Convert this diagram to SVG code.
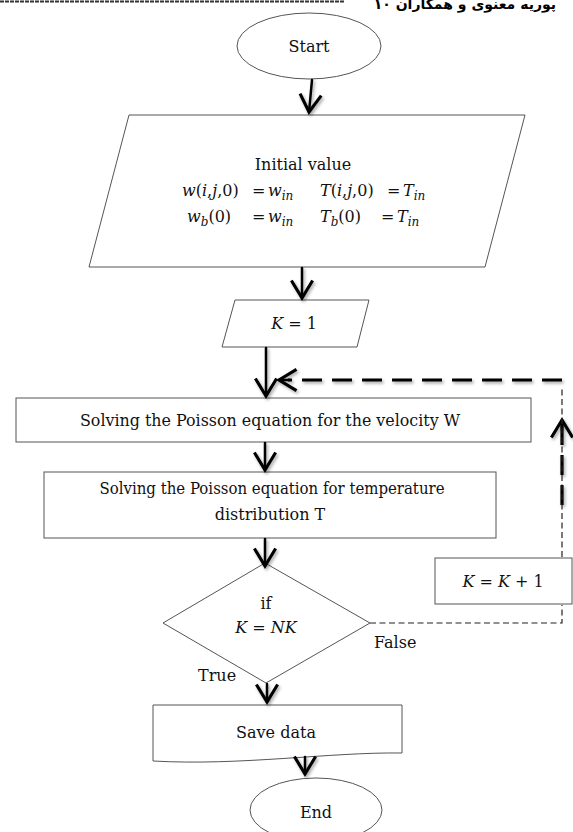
<svg xmlns="http://www.w3.org/2000/svg" width="573" height="832" viewBox="0 0 573 832">
<style>
.t{font-family:"DejaVu Serif","Liberation Serif",serif;font-size:16px;fill:#111}
.i{font-style:italic}
.s{font-size:12px}
.c{text-anchor:middle}
.n{fill:#fff;stroke:#555;stroke-width:1}
.a{fill:none;stroke:#000;stroke-width:2.5;stroke-linecap:round}
.d{fill:none;stroke:#222;stroke-width:1.2;stroke-dasharray:6 3.5}
.D{fill:none;stroke:#000;stroke-width:3.2;stroke-dasharray:20 10}
.h{font-family:"DejaVu Sans","Noto Sans",sans-serif;font-weight:bold;font-size:14px;fill:#000}
</style>
<defs>
<marker id="v" markerUnits="userSpaceOnUse" orient="auto" refX="0" refY="0" markerWidth="30" markerHeight="30" viewBox="-16 -12 20 24" overflow="visible">
<path d="M-14,-8.5 L0,0 L-14,8.5" fill="none" stroke="#000" stroke-width="2.5" stroke-linejoin="miter"/>
</marker>
<filter id="sh" x="-50%" y="-50%" width="200%" height="200%">
<feDropShadow dx="1.5" dy="2" stdDeviation="1.5" flood-color="#000" flood-opacity="0.35"/>
</filter>
</defs>

<g id="header">
<line x1="0" y1="1.5" x2="344" y2="1.5" stroke="#333" stroke-width="2" stroke-dasharray="4 1"/>
<text class="h" x="556" y="9" text-anchor="end">۱۰ پوریه معنوی و همکاران</text>
</g>

<g id="start">
<ellipse class="n" cx="309" cy="46" rx="72" ry="33"/>
<text class="t c" x="309" y="52">Start</text>
</g>

<g id="initial">
<polygon class="n" points="129,115 525,115 485,267 89,267"/>
<text class="t c" x="303" y="170">Initial value</text>
<text class="t" y="196"><tspan x="182" class="i">w</tspan>(<tspan class="i">i</tspan>,<tspan class="i">j</tspan>,0)<tspan x="252">=</tspan><tspan x="268" class="i">w</tspan><tspan class="i s" dy="4">in</tspan></text>
<text class="t" y="196"><tspan x="320" class="i">T</tspan>(<tspan class="i">i</tspan>,<tspan class="i">j</tspan>,0)<tspan x="387">=</tspan><tspan x="403" class="i">T</tspan><tspan class="i s" dy="4">in</tspan></text>
<text class="t" y="222"><tspan x="187" class="i">w</tspan><tspan class="i s" dy="4">b</tspan><tspan dy="-4">(0)</tspan><tspan x="252">=</tspan><tspan x="268" class="i">w</tspan><tspan class="i s" dy="4">in</tspan></text>
<text class="t" y="222"><tspan x="320" class="i">T</tspan><tspan class="i s" dy="4">b</tspan><tspan dy="-4">(0)</tspan><tspan x="381">=</tspan><tspan x="397" class="i">T</tspan><tspan class="i s" dy="4">in</tspan></text>
</g>

<g id="k1">
<polygon class="n" points="235,300 369,300 357,347 222,347"/>
<text class="t c" x="294" y="329"><tspan class="i">K</tspan> = 1</text>
</g>

<g id="velocity">
<rect class="n" x="16" y="398" width="515" height="44"/>
<text class="t c" x="270" y="426" textLength="380" lengthAdjust="spacingAndGlyphs">Solving the Poisson equation for the velocity W</text>
</g>

<g id="temperature">
<rect class="n" x="44" y="472" width="452" height="66"/>
<text class="t c" x="272" y="494" textLength="345" lengthAdjust="spacingAndGlyphs">Solving the Poisson equation for temperature</text>
<text class="t c" x="270" y="520">distribution T</text>
</g>

<g id="decision">
<polygon class="n" points="265,563 370,623 266,683 163,623" stroke="#888"/>
<text class="t c" x="266" y="609">if</text>
<text class="t c" x="266" y="633"><tspan class="i">K</tspan> = <tspan class="i">NK</tspan></text>
<text class="t" x="374" y="648">False</text>
<text class="t" x="198" y="681">True</text>
</g>

<g id="increment">
<rect class="n" x="435" y="558" width="137" height="46"/>
<text class="t c" x="503" y="587"><tspan class="i">K</tspan> = <tspan class="i">K</tspan> + 1</text>
</g>

<g id="save">
<path class="n" d="M153,705 L402,705 L402,753 C330,752 240,766 153,761 Z"/>
<text class="t c" x="276" y="738">Save data</text>
</g>

<g id="end">
<ellipse class="n" cx="316" cy="810" rx="66" ry="32"/>
<text class="t c" x="316" y="818">End</text>
</g>

<g id="connectors">
<g filter="url(#sh)">
<path class="a" d="M312,80 L309,112" marker-end="url(#v)"/>
<path class="a" d="M302,268 L302,298" marker-end="url(#v)"/>
<path class="a" d="M266,348 L266,396" marker-end="url(#v)"/>
<path class="a" d="M265,443 L265,470" marker-end="url(#v)"/>
<path class="a" d="M265,539 L265,566" marker-end="url(#v)"/>
<path class="a" d="M267,684 L267,702" marker-end="url(#v)"/>
<path class="a" d="M305,757 L305,774" marker-end="url(#v)"/>
<path class="D" d="M562,380 L288,380"/>
<path class="a" d="M289,380 L279,380" marker-end="url(#v)"/>
<path class="D" d="M562,505 L562,424" stroke-dasharray="18 6"/>
<path class="a" d="M562,430 L562,420" marker-end="url(#v)"/>
</g>
<path class="d" d="M370,623 L562,623 L562,605"/>
<path class="d" d="M562,557 L562,386"/>
</g>
</svg>
